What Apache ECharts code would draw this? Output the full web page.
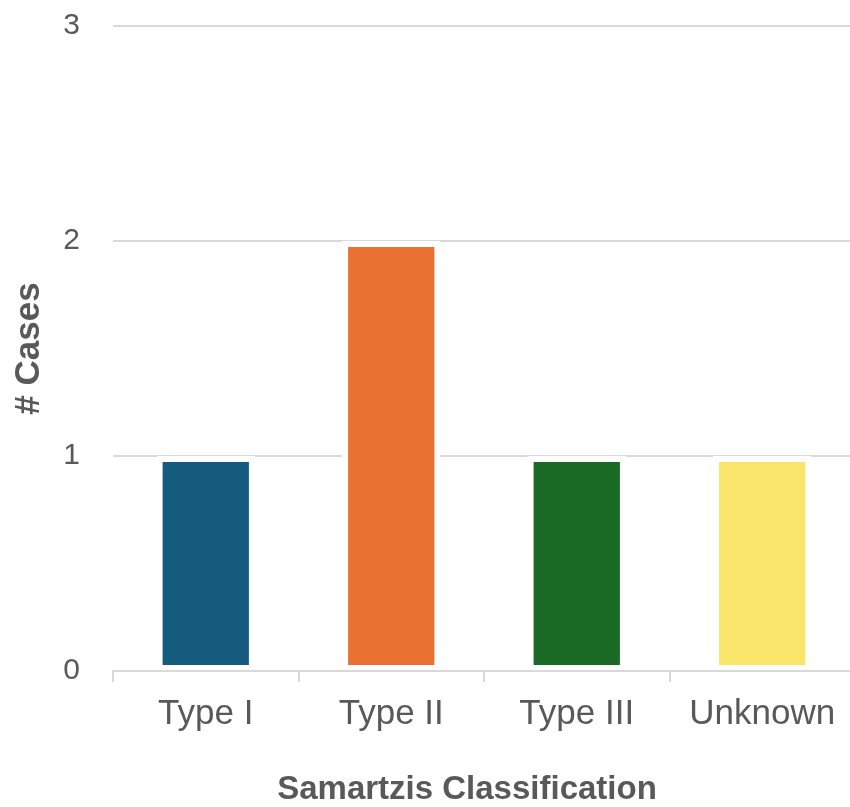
<!DOCTYPE html>
<html>
<head>
<meta charset="utf-8">
<script src="https://cdn.jsdelivr.net/npm/echarts@6/dist/echarts.min.js"></script>
<style>
  html, body { margin: 0; padding: 0; background: #fff; }
  #chart { width: 850px; height: 807px; }
</style>
</head>
<body>
<div id="chart"></div>
<script>
// Case counts by Samartzis classification
const categories = ['Type I', 'Type II', 'Type III', 'Unknown'];
const caseCounts = [1, 2, 1, 1];
const barColors = ['#155c7f', '#e97132', '#1b6a25', '#f9e56a'];
const yTicks = { min: 0, max: 3, interval: 1 };

const chart = echarts.init(document.getElementById('chart'), null, { renderer: 'canvas' });

chart.setOption({
  animation: false,
  grid: { left: 113, width: 742, top: 26, height: 645, containLabel: false, outerBoundsMode: 'none' },
  xAxis: {
    type: 'category',
    data: categories,
    z: 5,
    name: 'Samartzis Classification',
    nameLocation: 'middle',
    nameGap: 102,
    nameTextStyle: {
      fontFamily: 'Liberation Sans', fontWeight: 'bold', fontSize: 33, color: '#595959',
      padding: [0, 34, 0, 0]
    },
    axisLine: { lineStyle: { color: '#d9d9d9', width: 2 } },
    axisTick: { show: true, interval: 0, length: 11, lineStyle: { color: '#d9d9d9', width: 2 } },
    axisLabel: { interval: 0, fontFamily: 'Liberation Sans', fontSize: 35, color: '#595959', margin: 26 }
  },
  yAxis: {
    type: 'value',
    min: yTicks.min,
    max: yTicks.max,
    interval: yTicks.interval,
    name: '# Cases',
    nameLocation: 'middle',
    nameGap: 66,
    nameTextStyle: { fontFamily: 'Liberation Sans', fontWeight: 'bold', fontSize: 35, color: '#595959' },
    axisLine: { show: false },
    axisTick: { show: false },
    axisLabel: { fontFamily: 'Liberation Sans', fontSize: 30, color: '#595959', margin: 33 },
    splitLine: { lineStyle: { color: '#d9d9d9', width: 2 } }
  },
  series: [{
    type: 'bar',
    barWidth: '53%',
    data: caseCounts.map((v, i) => ({
      value: v,
      itemStyle: { color: barColors[i], borderColor: '#ffffff', borderWidth: 6 }
    }))
  }]
});
</script>
</body>
</html>
